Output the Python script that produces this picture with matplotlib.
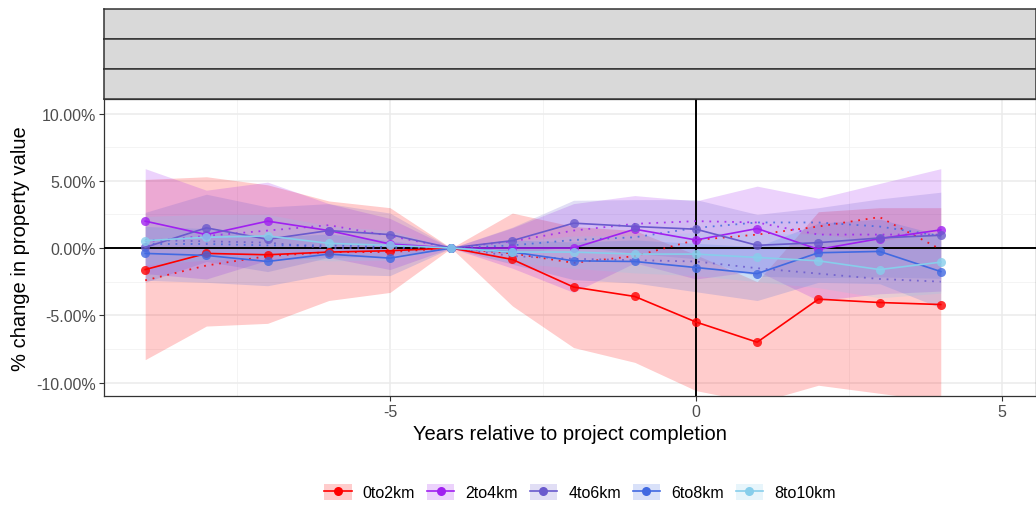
import matplotlib
matplotlib.use("Agg")
import matplotlib.pyplot as plt
from matplotlib.patches import Patch
from matplotlib.lines import Line2D
from matplotlib.ticker import FixedLocator, FuncFormatter

plt.rcParams['font.family'] = ['Liberation Sans', 'DejaVu Sans']

years = [-9, -8, -7, -6, -5, -4, -3, -2, -1, 0, 1, 2, 3, 4]
groups = ["0to2km", "2to4km", "4to6km", "6to8km", "8to10km"]
colors = ["#FF0000", "#A020F0", "#6A5ACD", "#4169E1", "#87CEEB"]

est_0to2 = [-1.6, -0.4, -0.5, -0.3, -0.2, 0, -0.85, -2.9, -3.6, -5.5, -7.0, -3.8, -4.05, -4.2]
est_2to4 = [2.0, 1.0, 2.0, 1.3, 0.3, 0, 0.0, 0.0, 1.4, 0.6, 1.45, -0.1, 0.7, 1.35]
est_4to6 = [0.05, 1.5, 0.65, 1.3, 1.0, 0, 0.55, 1.85, 1.6, 1.4, 0.2, 0.4, 0.75, 0.95]
est_6to8 = [-0.4, -0.55, -1.0, -0.45, -0.75, 0, -0.3, -0.95, -1.0, -1.45, -1.9, -0.35, -0.25, -1.75]
est_8to10 = [0.55, 0.8, 0.9, 0.35, 0.2, 0, -0.3, -0.3, -0.45, -0.45, -0.7, -0.95, -1.6, -1.05]

lo_0to2 = [-8.3, -5.8, -5.6, -3.9, -3.3, 0, -4.3, -7.4, -8.5, -10.6, -11.5, -10.2, -10.8, -11.4]
hi_0to2 = [5.1, 5.3, 4.7, 3.5, 3.0, 0, 2.6, 1.6, 1.3, -0.5, -2.5, 2.7, 3.0, 3.0]
lo_2to4 = [-1.9, -2.3, -0.9, -0.7, -1.6, 0, -1.5, -3.3, -1.1, -2.3, -1.7, -3.9, -3.4, -3.2]
hi_2to4 = [5.9, 4.3, 4.9, 3.3, 2.2, 0, 1.5, 3.3, 3.9, 3.5, 4.6, 3.7, 4.8, 5.9]
lo_4to6 = [-2.55, -1.0, -1.75, -0.7, -0.6, 0, -0.45, 0.15, -0.4, -0.8, -2.1, -2.2, -2.15, -2.25]
hi_4to6 = [2.65, 4.0, 3.05, 3.3, 2.6, 0, 1.55, 3.55, 3.6, 3.6, 2.5, 3.0, 3.65, 4.15]
lo_6to8 = [-2.4, -2.55, -2.8, -1.95, -2.05, 0, -1.2, -2.35, -2.6, -3.25, -3.9, -2.55, -2.65, -4.45]
hi_6to8 = [1.6, 1.45, 0.8, 1.05, 0.55, 0, 0.6, 0.45, 0.6, 0.35, 0.1, 1.85, 2.15, 0.95]
lo_8to10 = [-1.25, -0.9, -0.7, -0.95, -0.9, 0, -1.1, -1.5, -1.85, -2.05, -2.5, -2.95, -3.7, -3.35]
hi_8to10 = [2.35, 2.5, 2.5, 1.65, 1.3, 0, 0.5, 0.9, 0.95, 1.15, 1.1, 1.05, 0.5, 1.25]

dot_0to2 = [-2.4, -1.3, -0.6, -0.3, -0.3, 0, -0.4, -1.1, -0.6, 0.6, 1.0, 1.6, 2.3, -0.1]
dot_2to4 = [0.5, 0.9, 1.3, 1.7, 0.9, 0, 0.5, 1.3, 1.8, 2.0, 1.9, 1.0, 1.0, 1.0]
dot_4to6 = [0.6, 0.5, 0.4, 0.0, 0.0, 0, -0.6, -0.8, -0.9, -1.0, -1.5, -1.9, -2.3, -2.5]
dot_6to8 = [0.3, 0.3, 0.2, 0.2, 0.1, 0, 0.2, 0.6, 0.8, 1.5, 1.9, 1.9, 1.6, 0.9]

ests = [est_0to2, est_2to4, est_4to6, est_6to8, est_8to10]
los = [lo_0to2, lo_2to4, lo_4to6, lo_6to8, lo_8to10]
his = [hi_0to2, hi_2to4, hi_4to6, hi_6to8, hi_8to10]
dots = [dot_0to2, dot_2to4, dot_4to6, dot_6to8]

x_ticks = [-5, 0, 5]
y_ticks = [-10, -5, 0, 5, 10]

W, H = 1036, 506
fig = plt.figure(figsize=(W / 100, H / 100), dpi=100)
ax = fig.add_axes([104 / W, 1 - 397 / H, (1036 - 104) / W, (397 - 100) / H])

for lo, hi, c in zip(los, his, colors):
    ax.fill_between(years, lo, hi, color=c, alpha=0.2, linewidth=0, zorder=2)

ax.axhline(0, color="black", lw=1.4, zorder=3)
ax.axvline(0, color="black", lw=1.4, zorder=3)

for d, c in zip(dots, colors):
    ax.plot(years, d, color=c, lw=1.3, ls=(0, (1, 3.2)), alpha=0.85, zorder=4)

for e, c in zip(ests, colors):
    ax.plot(years, e, color=c, lw=1.2, zorder=5)
    ax.plot(years, e, ls="none", marker="o", ms=6.5, color=c, alpha=0.8,
            markeredgewidth=0, zorder=6)

ax.set_xlim(-9.673, 5.556)
ax.set_ylim(-11.0, 11.08)
ax.xaxis.set_major_locator(FixedLocator(x_ticks))
ax.yaxis.set_major_locator(FixedLocator(y_ticks))
ax.xaxis.set_minor_locator(FixedLocator([-7.5, -2.5, 2.5]))
ax.yaxis.set_minor_locator(FixedLocator([-7.5, -2.5, 2.5, 7.5]))
ax.yaxis.set_major_formatter(FuncFormatter(lambda v, p: f"{v:.2f}%"))
ax.xaxis.set_major_formatter(FuncFormatter(lambda v, p: f"{int(v)}"))
ax.grid(True, which="major", color="#EBEBEB", lw=1.1, zorder=0)
ax.grid(True, which="minor", color="#F2F2F2", lw=0.6, zorder=0)
ax.set_axisbelow(True)
ax.tick_params(which="major", length=3.5, width=0.8, color="#333333",
               labelsize=11.5, labelcolor="#4D4D4D", pad=2.5)
ax.tick_params(which="minor", length=0)
for s in ax.spines.values():
    s.set_color("#333333")
    s.set_linewidth(0.9)

ax.set_xlabel("Years relative to project completion", fontsize=14.5, labelpad=3)
ax.set_ylabel("% change in property value", fontsize=14.5, labelpad=4)

# strips (empty facet labels)
for i in range(3):
    top = 10 + 30 * i
    sax = fig.add_axes([104 / W, 1 - (top + 30) / H, (1036 - 104) / W, 30 / H])
    sax.set_facecolor("#D9D9D9")
    sax.set_xticks([])
    sax.set_yticks([])
    for s in sax.spines.values():
        s.set_color("#333333")
        s.set_linewidth(1.1)

handles = []
for c in colors:
    h_patch = Patch(facecolor=c, alpha=0.2, edgecolor="none")
    h_line = Line2D([], [], color=c, lw=1.2, marker="o", ms=6.5, markeredgewidth=0)
    handles.append((h_patch, h_line))
fig.legend(handles, groups, loc="center", bbox_to_anchor=(580 / W, 1 - 493 / H),
           ncol=5, frameon=False, fontsize=11.5, handlelength=1.7, handleheight=1.15,
           handletextpad=0.7, columnspacing=0.75)

fig.savefig("out.png", dpi=100)
